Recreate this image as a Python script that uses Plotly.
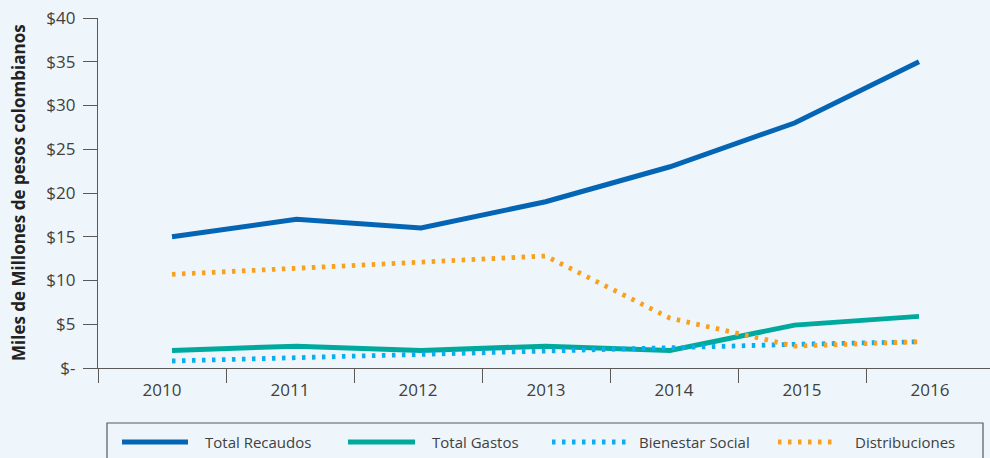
import plotly.graph_objects as go

# Series (miles de millones de pesos colombianos)
years = [2010, 2011, 2012, 2013, 2014, 2015, 2016]
total_recaudos = [15, 17, 16, 19, 23, 28, 35]
total_gastos = [2.0, 2.5, 2.0, 2.5, 2.0, 4.9, 5.9]
bienestar_social = [0.8, 1.2, 1.6, 2.0, 2.3, 2.7, 3.0]
distribuciones = [10.7, 11.4, 12.1, 12.8, 5.7, 2.5, 3.0]

y_tickvals = [0, 5, 10, 15, 20, 25, 30, 35, 40]
y_ticktext = ["$-", "$5", "$10", "$15", "$20", "$25", "$30", "$35", "$40"]
year_labels = [str(y) for y in years]

W, H = 990, 458
L, R, T, B = 98, 0, 18, 90
PW, PH = W - L - R, H - T - B

BG = "#EEF6FC"
AXIS = "#595959"
TEXT = "#404040"
FONT = "Open Sans"

series = [
    ("Total Recaudos", total_recaudos, "#0565B5", "solid"),
    ("Total Gastos", total_gastos, "#00A99D", "solid"),
    ("Bienestar Social", bienestar_social, "#0AAEEF", "dotted"),
    ("Distribuciones", distribuciones, "#F8A11F", "dotted"),
]

DOT = "3.5px,6.5px"
DOT_W = 4.8

fig = go.Figure()

# invisible category trace to carry the year axis
fig.add_trace(go.Scatter(x=year_labels, y=[None] * len(years), xaxis="x",
                         showlegend=False, hoverinfo="skip"))

for name, vals, color, style in series:
    fig.add_trace(go.Scatter(
        x=years, y=vals, name=name, mode="lines", xaxis="x2",
        line=dict(color=color, width=5 if style == "solid" else DOT_W,
                  dash="solid" if style == "solid" else DOT),
        showlegend=False,
    ))


def px_x(p):
    return (p - L) / PW


def px_y(p):
    return (H - B - p) / PH


shapes = []
annotations = []

# legend frame
shapes.append(dict(type="rect", xref="paper", yref="paper",
                   x0=px_x(107), x1=px_x(983), y0=px_y(480), y1=px_y(423),
                   line=dict(color=AXIS, width=1.2), fillcolor=BG, layer="above"))

legend_items = [(122, 188, 203), (348, 415, 430), (552, 626, 637), (778, 836, 853)]
for (x0, x1, tx), (name, vals, color, style) in zip(legend_items, series):
    shapes.append(dict(type="line", xref="paper", yref="paper",
                       x0=px_x(x0), x1=px_x(x1), y0=px_y(442), y1=px_y(442),
                       line=dict(color=color, width=5 if style == "solid" else DOT_W,
                                 dash="solid" if style == "solid" else DOT),
                       layer="above"))
    annotations.append(dict(text=name, xref="paper", yref="paper",
                            x=px_x(tx), y=px_y(442), xanchor="left", yanchor="middle",
                            showarrow=False, font=dict(family=FONT, size=15, color=TEXT)))

annotations.append(dict(text="<b>Miles de Millones de pesos colombianos</b>",
                        xref="paper", yref="paper", x=px_x(18), y=0.5,
                        textangle=-90, xanchor="center", yanchor="middle",
                        showarrow=False, font=dict(family=FONT, size=17, color="#222222")))

x2_r0 = years[0] - 74 / 124.5
x2_r1 = x2_r0 + PW / 124.5

fig.update_layout(
    width=W, height=H,
    margin=dict(l=L, r=R, t=T, b=B, autoexpand=False),
    paper_bgcolor=BG, plot_bgcolor=BG,
    font=dict(family=FONT, color=TEXT),
    showlegend=False,
    xaxis=dict(
        type="category", categoryorder="array", categoryarray=year_labels,
        range=[-0.5, 6.5 - 4 / 128], tickson="boundaries",
        ticks="outside", ticklen=14, tickwidth=1.3, tickcolor=AXIS,
        showline=True, linecolor=AXIS, linewidth=1.3,
        showgrid=False, zeroline=False, ticklabelstandoff=6,
        tickfont=dict(family=FONT, size=17, color=TEXT),
    ),
    xaxis2=dict(overlaying="x", range=[x2_r0, x2_r1], visible=False,
                showgrid=False, zeroline=False),
    yaxis=dict(
        range=[0, 40], tickvals=y_tickvals, ticktext=y_ticktext,
        ticks="outside", ticklen=14, tickwidth=1.3, tickcolor=AXIS,
        showline=True, linecolor=AXIS, linewidth=1.3,
        showgrid=False, zeroline=False, ticklabelstandoff=4,
        tickfont=dict(family=FONT, size=17, color=TEXT),
    ),
    shapes=shapes,
    annotations=annotations,
)

fig.write_html("out.html")
